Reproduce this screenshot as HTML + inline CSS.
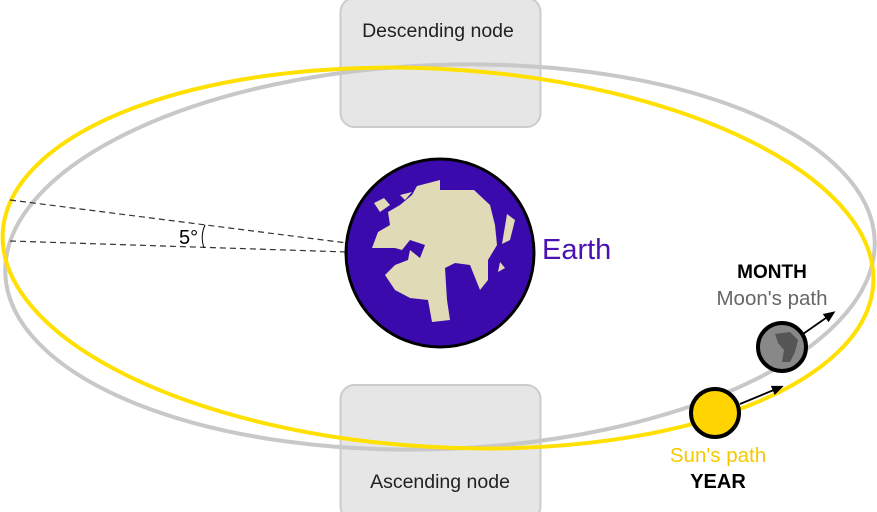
<!DOCTYPE html>
<html><head><style>body{margin:0;background:#fff}svg{display:block}text{font-family:"Liberation Sans",sans-serif}</style></head><body>
<svg width="877" height="512" viewBox="0 0 877 512" xmlns="http://www.w3.org/2000/svg">
<defs><marker id="a" markerWidth="12" markerHeight="10" refX="9" refY="5" orient="auto" markerUnits="userSpaceOnUse"><path d="M0,0L12,5L0,10Z" fill="#000"/></marker></defs>
<rect x="340.5" y="-2" width="200" height="129" rx="14" fill="#e6e6e6" stroke="#ccc" stroke-width="2"/>
<rect x="340.5" y="385" width="200" height="135" rx="14" fill="#e6e6e6" stroke="#ccc" stroke-width="2"/>
<text x="438" y="37" font-size="19.5" text-anchor="middle" fill="#222">Descending node</text>
<text x="440" y="488" font-size="19.5" text-anchor="middle" fill="#222">Ascending node</text>
<ellipse cx="440" cy="257" rx="435" ry="192" transform="rotate(-2.2 440 257)" fill="none" stroke="#c8c8c8" stroke-width="4"/>
<ellipse cx="438" cy="258" rx="436" ry="189" transform="rotate(3.4 438 258)" fill="none" stroke="#ffe000" stroke-width="4"/>
<line x1="10" y1="200" x2="347" y2="243" stroke="#333" stroke-width="1.2" stroke-dasharray="6,4"/>
<line x1="10" y1="241" x2="347" y2="252" stroke="#333" stroke-width="1.2" stroke-dasharray="6,4"/>
<path d="M205,225 Q200,236 204,248" fill="none" stroke="#000" stroke-width="1"/>
<text x="179" y="244" font-size="20">5°</text>
<circle cx="440" cy="253" r="94" fill="#3a0aad" stroke="#000" stroke-width="3"/>
<path d="M417,186 L440,180 L440,190 L474,190 L490,205 L495,225 L497,245 L488,260 L488,280 L480,290 L470,265 L455,263 L445,268 L447,300 L450,320 L432,322 L428,300 L410,298 L395,290 L385,275 L395,265 L408,260 L410,250 L420,258 L425,245 L410,240 L402,250 L395,248 L372,248 L378,232 L390,225 L388,212 L400,205 L412,195 Z" fill="#e0dab7"/>
<path d="M374,203 L384,198 L390,205 L380,212 Z M400,195 L412,192 L405,200 Z M507,214 L515,220 L510,240 L502,244 Z M500,262 L505,268 L498,272 Z" fill="#e0dab7"/>
<text x="542" y="259" font-size="29" fill="#4a12b0">Earth</text>
<line x1="803" y1="334" x2="833" y2="313" stroke="#000" stroke-width="1.8" marker-end="url(#a)"/>
<line x1="740" y1="404" x2="781" y2="387" stroke="#000" stroke-width="1.8" marker-end="url(#a)"/>
<circle cx="782" cy="347" r="24" fill="#888" stroke="#000" stroke-width="4"/>
<path d="M775,334 L790,332 L798,340 L795,352 L790,362 L782,362 L784,350 L778,343 Z" fill="#555"/>
<circle cx="715" cy="413" r="24" fill="#ffd400" stroke="#000" stroke-width="4"/>
<text x="772" y="278" font-size="19" font-weight="bold" text-anchor="middle">MONTH</text>
<text x="772" y="305" font-size="20.5" fill="#666" text-anchor="middle">Moon's path</text>
<text x="718" y="462" font-size="20.5" fill="#f5c800" text-anchor="middle">Sun's path</text>
<text x="718" y="488" font-size="20" font-weight="bold" text-anchor="middle">YEAR</text>
</svg>
</body></html>
